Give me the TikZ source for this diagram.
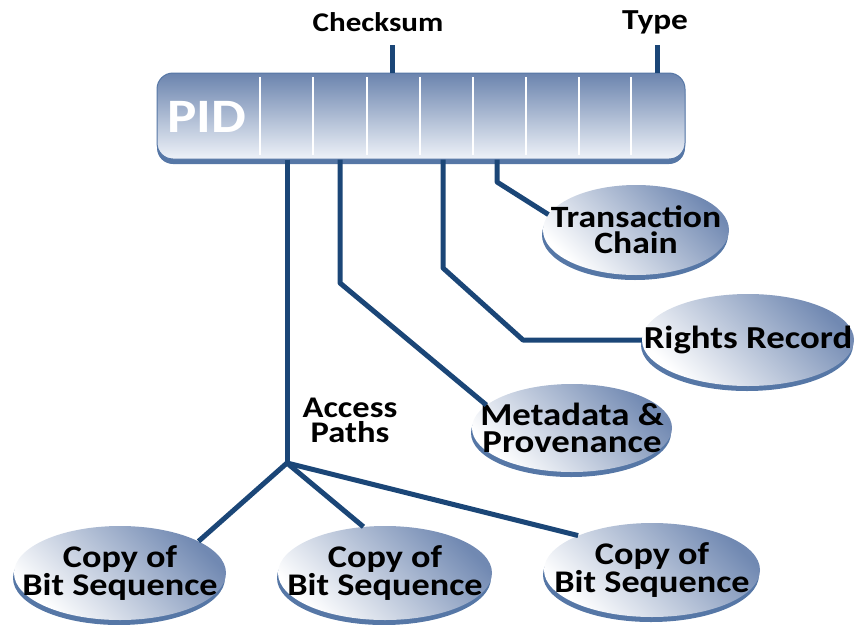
\documentclass[tikz,border=0pt]{standalone}
\usepackage{fontspec}
\setmainfont[FakeStretch=1.15]{Carlito}
\usetikzlibrary{shapes.geometric,shadows}

\definecolor{navy}{HTML}{1B4677}
\definecolor{barTop}{HTML}{6B84AE}
\definecolor{barBot}{HTML}{EEF2F8}
\definecolor{rim}{HTML}{5677A6}
\definecolor{bubbleBlue}{HTML}{7189B2}

\begin{document}
\begin{tikzpicture}[x=1pt, y=-1pt,
	link/.style={draw=navy, line width=5pt, line join=round},
	bubble/.style={ellipse, inner xsep=-40pt, inner ysep=0pt, align=center,
		left color=white, right color=bubbleBlue, shading angle=135,
		drop shadow={shadow xshift=-1pt, shadow yshift=-5pt, fill=rim, opacity=1},
		font=\bfseries\fontsize{32}{27}\selectfont},
	copybox/.style={bubble, minimum height=94pt, font=\bfseries\fontsize{31.5}{27}\selectfont},
	txt/.style={align=center, font=\bfseries\fontsize{27}{25}\selectfont}]

		\useasboundingbox (0,0) rectangle (856,624);

		% PID bar
		\node[rounded corners=16pt, minimum width=528pt, minimum height=86pt,
			top color=barTop, bottom color=barBot, draw=rim, line width=1pt,
			drop shadow={shadow xshift=0pt, shadow yshift=-5pt, fill=rim, opacity=1}]
			(pid) at (421,116) {};
		\foreach \x in {260,313,367,420,473,526,579,631}
			\draw[white, line width=2.5pt] (\x,77) -- (\x,155);
		\node[text=white, font=\bfseries\fontsize{48}{48}\selectfont] (pidtxt) at (207,117) {PID};

		% labels on top
		\node[txt] (checksum) at (378,22) {Checksum};
		\node[txt, font=\bfseries\fontsize{29}{25}\selectfont] (type) at (655,22) {Type};
		\coordinate (ck) at (392,45);
		\coordinate (ty) at (657,45);
		\draw[link] (ck) -- (ck |- pid.north);
		\draw[link] (ty) -- (ty |- pid.north);

		% bubbles
		\node[bubble, minimum width=186pt, minimum height=90pt, font=\bfseries\fontsize{31}{26}\selectfont] (trans) at (636,230) {Transaction\\Chain};
		\node[bubble, minimum width=212pt, minimum height=92pt] (rights) at (748,340) {Rights Record};
		\node[bubble, minimum width=200pt, minimum height=88pt] (meta) at (572,428) {Metadata \&\\Provenance};
		\node[copybox, minimum width=212pt] (copya) at (120,573) {Copy of\\Bit Sequence};
		\node[copybox, minimum width=214pt] (copyb) at (385,573) {Copy of\\Bit Sequence};
		\node[copybox, minimum width=216pt] (copyc) at (652,570) {Copy of\\Bit Sequence};

		% bend points
		\coordinate (t1) at (497,182);
		\coordinate (r1) at (443,268);
		\coordinate (r2) at (523,340);
		\coordinate (m1) at (340,283);
		\coordinate (acc) at (287,463);

		\draw[link] (t1 |- pid.south) -- (t1) -- (trans.170);
		\draw[link] (r1 |- pid.south) -- (r1) -- (r2) -- (rights.west);
		\draw[link] (m1 |- pid.south) -- (m1) -- (meta.165);
		\draw[link] (acc |- pid.south) -- (acc);
		\draw[link] (acc) -- (copya.22);
		\draw[link] (acc) -- (copyb.115);
		\draw[link] (acc) -- (copyc.155);

		\node[txt, font=\bfseries\fontsize{30}{25}\selectfont] (access) at (350,420) {Access\\Paths};
	\end{tikzpicture}
\end{document}
